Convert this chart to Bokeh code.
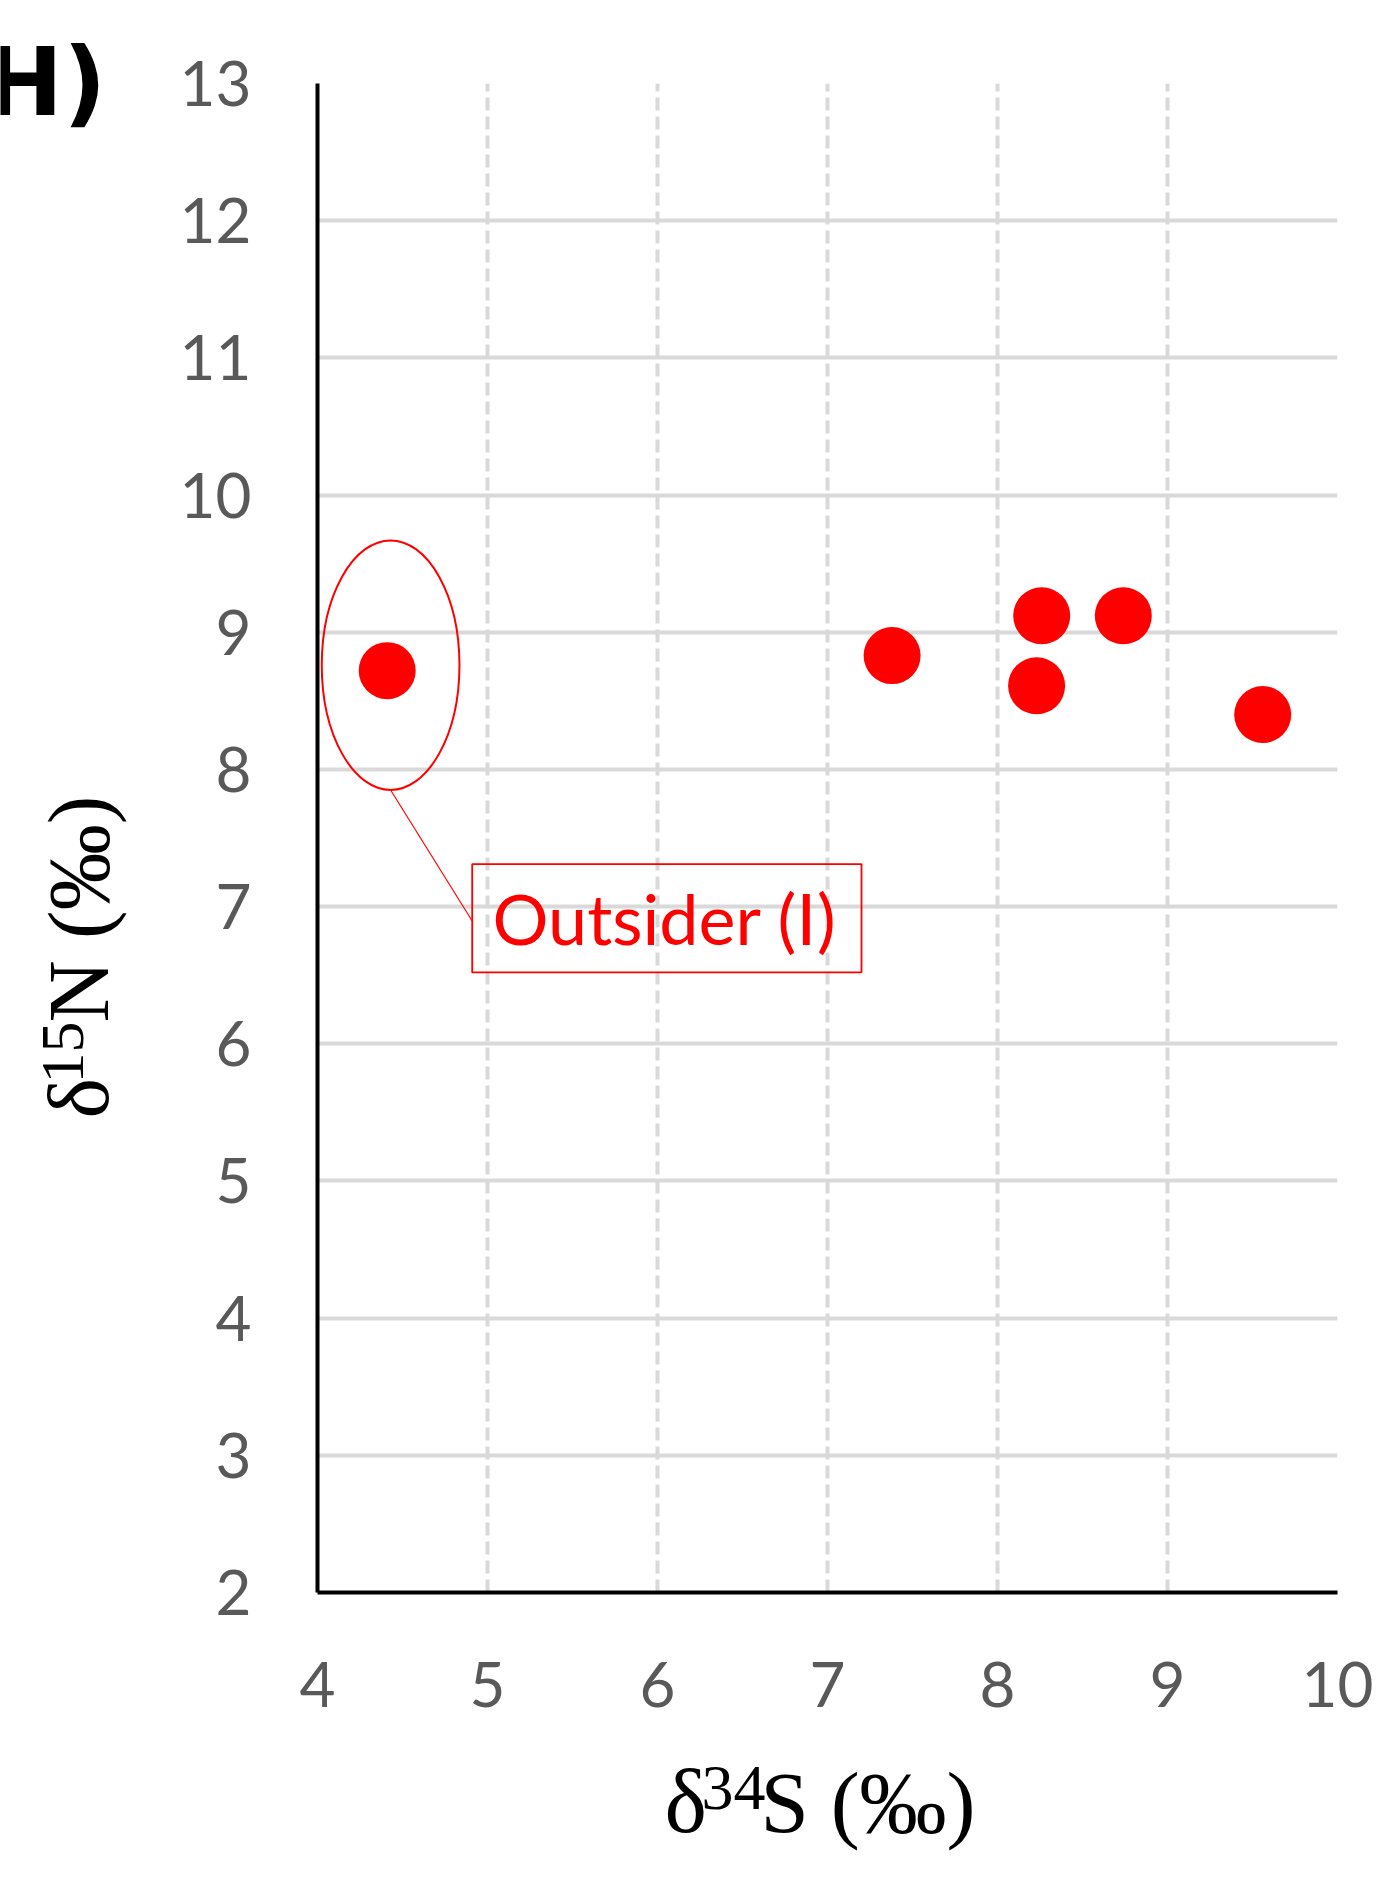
import math
from bokeh.plotting import figure
from bokeh.models import Range1d, FixedTicker, Label, BoxAnnotation
from bokeh.layouts import row, column
from bokeh.embed import file_html
from bokeh.resources import INLINE

# ---- data ----
d34S = [4.41, 7.38, 8.26, 8.74, 8.23, 9.56]
d15N = [8.72, 8.83, 9.12, 9.12, 8.61, 8.40]
x_ticks = [4, 5, 6, 7, 8, 9, 10]
y_ticks = [2, 3, 4, 5, 6, 7, 8, 9, 10, 11, 12, 13]

# outsider annotation (data units)
outsider_index = 0
ellipse_w, ellipse_h = 0.81, 1.82
box_left, box_right, box_top, box_bottom = 4.91, 7.20, 7.31, 6.52
callout_text = "Outsider (Ⅰ)"

TOTAL_W, TOTAL_H = 1392, 1883
LW = 137          # left strip (panel letter + y title)
MW = TOTAL_W - LW # main chart width
MH = 1745         # main chart height
BH = TOTAL_H - MH # strip below for x title
FRAME_L, FRAME_R = 317, 1337

p = figure(width=MW, height=MH, output_backend="svg", toolbar_location=None,
           x_range=Range1d(4, 10), y_range=Range1d(2, 13),
           min_border_left=FRAME_L - LW, min_border_right=TOTAL_W - FRAME_R,
           min_border_top=83, min_border_bottom=MH - 1592)
p.outline_line_color = None
p.background_fill_color = "white"
p.border_fill_color = "white"

TICK_FONT = "Lato"
for ax in (p.xaxis[0], p.yaxis[0]):
    ax.axis_line_color = "black"
    ax.axis_line_width = 4
    ax.major_tick_line_color = None
    ax.minor_tick_line_color = None
    ax.major_label_text_font = TICK_FONT
    ax.major_label_text_font_size = "62px"
    ax.major_label_text_color = "#595959"
p.xaxis.ticker = FixedTicker(ticks=x_ticks)
p.yaxis.ticker = FixedTicker(ticks=y_ticks)
p.xaxis.major_label_standoff = 63
p.yaxis.major_label_standoff = 60

p.xgrid.ticker = FixedTicker(ticks=x_ticks)
p.ygrid.ticker = FixedTicker(ticks=y_ticks)
p.xgrid.grid_line_color = "#d9d9d9"
p.xgrid.grid_line_width = 4
p.xgrid.grid_line_dash = "13 6"
p.ygrid.grid_line_color = "#d9d9d9"
p.ygrid.grid_line_width = 4

# points
p.scatter(d34S, d15N, size=57, fill_color="#ff0000", line_color=None)

# ellipse round the outsider
ox, oy = d34S[outsider_index] + 0.02, d15N[outsider_index] + 0.04
p.ellipse(x=[ox], y=[oy], width=ellipse_w, height=ellipse_h,
          fill_color=None, line_color="#ff0000", line_width=2)
# leader line
p.line([ox, box_left], [oy - ellipse_h / 2, (box_top + box_bottom) / 2 - 0.02],
       line_color="#ff0000", line_width=1.2)
# callout box
p.add_layout(BoxAnnotation(left=box_left, right=box_right, top=box_top, bottom=box_bottom,
                           fill_alpha=0, line_color="#ff0000", line_alpha=1.0, line_width=1.8))
p.add_layout(Label(x=box_left + 0.12, y=(box_top + box_bottom) / 2, text=callout_text,
                   text_font="Lato", text_font_size="70px", text_color="#ff0000",
                   text_baseline="middle", text_align="left"))


def strip(w, h, x0=0, x1=None):
    f = figure(width=w, height=h, output_backend="svg", toolbar_location=None,
               x_range=Range1d(x0, w if x1 is None else x1), y_range=Range1d(0, h), min_border=0,
               x_axis_type=None, y_axis_type=None)
    f.outline_line_color = None
    f.background_fill_color = "white"
    f.border_fill_color = "white"
    f.grid.visible = False
    return f


SERIF = "Liberation Serif"
# left strip: panel letter and y title (pixel coordinates, y from bottom)
left = strip(LW, TOTAL_H)
for txt, x, y, fs in [("δ", 78, 765, "86px"), ("15", 62, 800, "62px"), ("N (‰)", 78, 861, "86px")]:
    left.add_layout(Label(x=x, y=y, text=txt, angle=math.pi / 2,
                          text_font=SERIF, text_font_size=fs, text_color="black",
                          text_baseline="alphabetic", text_align="left"))
left.add_layout(Label(x=106, y=1802, text="(H)",
                      text_font="DejaVu Sans", text_font_style="bold", text_font_size="95px",
                      text_color="black", text_baseline="alphabetic", text_align="right"))

# bottom strip: x title; its frame is aligned with the chart frame, so the
# x range is given in page pixels spanning that frame
bottom = strip(MW, BH, FRAME_L, FRAME_R)
for txt, x, y, fs in [("δ", 664, 82, "90px"), ("34", 701, 96, "64px"), ("S (‰)", 760, 81, "87px")]:
    bottom.add_layout(Label(x=x, y=y, text=txt,
                            text_font=SERIF, text_font_size=fs, text_color="black",
                            text_baseline="alphabetic", text_align="left"))

layout = row(left, column(p, bottom, spacing=0), spacing=0)
open("out.html", "w").write(file_html(layout, INLINE))
